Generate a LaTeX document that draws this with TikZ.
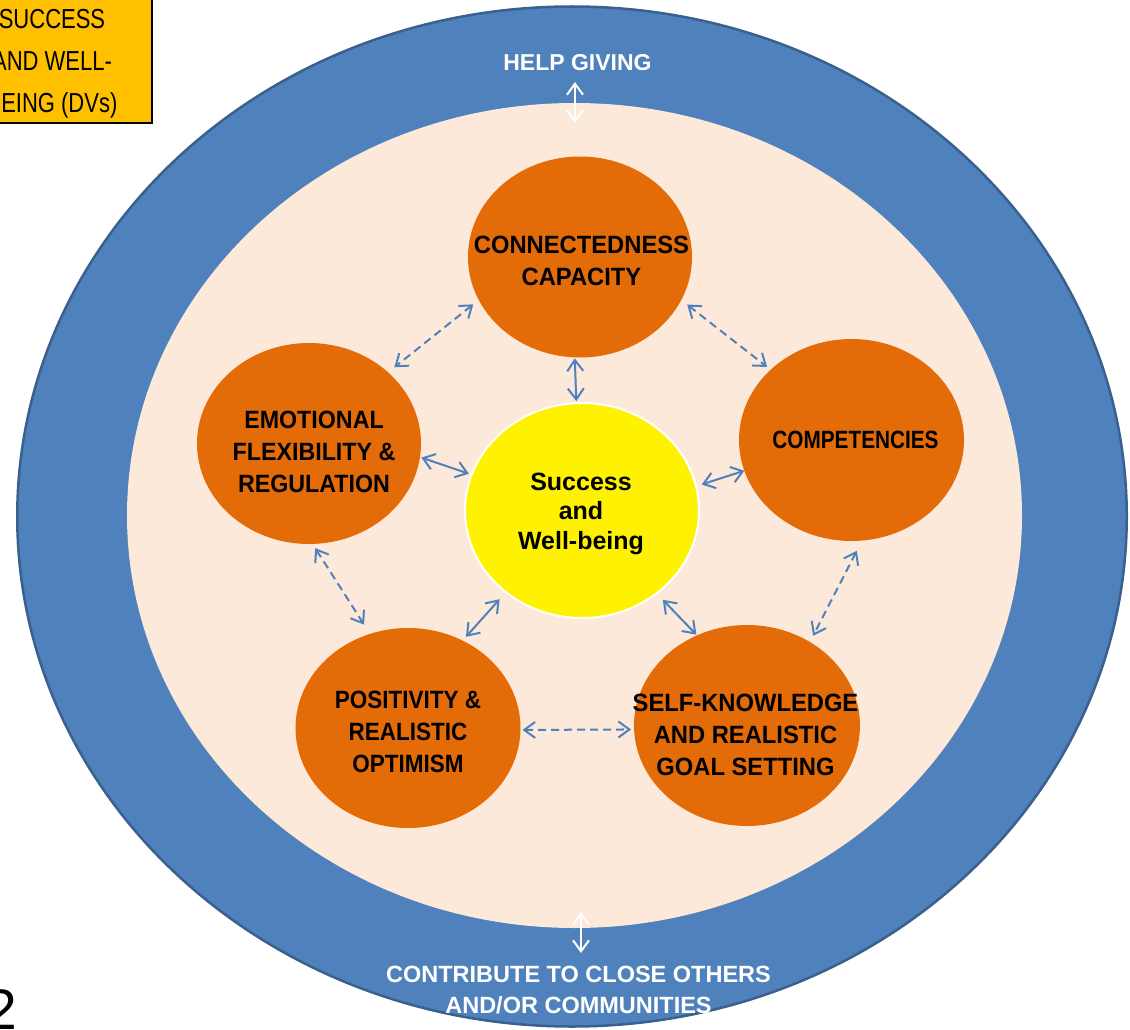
\documentclass[tikz,border=0pt]{standalone}
\usepackage{fontspec}
\usepackage{graphicx}
\setmainfont{Liberation Sans}
\usetikzlibrary{shapes.geometric,arrows.meta}

\definecolor{bandblue}{RGB}{79,129,189}
\definecolor{bandedge}{RGB}{58,96,142}
\definecolor{peach}{RGB}{253,233,217}
\definecolor{pumpkin}{RGB}{227,108,9}
\definecolor{linkblue}{RGB}{79,129,189}
\definecolor{gold}{RGB}{255,192,0}

% horizontally condensed text
\newcommand\narrow[2]{\scalebox{#1}[1]{#2}}

\tikzset{
  factor/.style={ellipse, fill=pumpkin, draw=none, inner sep=0pt, outer sep=0pt},
  factortext/.style={font=\bfseries\fontsize{25}{32}\selectfont, align=center, inner sep=0pt, text=black},
  coretext/.style={font=\bfseries\fontsize{25}{29.5}\selectfont, align=center, inner sep=0pt, text=black},
  bandtext/.style={font=\bfseries\fontsize{23.5}{31}\selectfont, align=center, inner sep=0pt, text=white},
  barb/.tip={Straight Barb[length=11pt,width=16pt]},
  link/.style={draw=linkblue, line width=2pt, barb-barb},
  weaklink/.style={link, dash pattern=on 8pt off 5pt},
  bandlink/.style={draw=white, line width=2pt, barb-barb},
}

\begin{document}
\begin{tikzpicture}[x=1pt,y=-1pt]
\useasboundingbox (0,0) rectangle (1130,1030);
\clip (0,0) rectangle (1130,1030);

% outer band and inner field
\node[ellipse, fill=bandblue, draw=bandedge, line width=2.5pt, inner sep=0pt,
      minimum width=1109.5pt, minimum height=1020pt] (band) at (572,516.5) {};
\node[ellipse, fill=peach, inner sep=0pt, minimum width=895pt, minimum height=825pt]
      (field) at (574.5,515.5) {};

% the five factors
\node[factor, minimum width=224pt, minimum height=201pt] (conn) at (580,257) {};
\node[factor, minimum width=224pt, minimum height=201pt] (emo)  at (309,443.5) {};
\node[factor, minimum width=225pt, minimum height=202pt] (comp) at (851.5,440) {};
\node[factor, minimum width=225pt, minimum height=200pt] (pos)  at (408,728) {};
\node[factor, minimum width=226pt, minimum height=201pt] (self) at (747,725.5) {};

% centre
\node[ellipse, fill=yellow, draw=white, line width=2pt, inner sep=0pt, outer sep=0pt,
      minimum width=234pt, minimum height=215pt] (core) at (582,510.5) {};

% labels
\node[factortext] (conn-label) at (581.5,261)
  {\narrow{0.95}{CONNECTEDNESS}\\\narrow{0.95}{CAPACITY}};
\node[factortext] (emo-label) at (314,452)
  {\narrow{0.93}{EMOTIONAL}\\\narrow{0.93}{FLEXIBILITY \&}\\\narrow{0.93}{REGULATION}};
\node[factortext] (comp-label) at (855.5,440) {\narrow{0.83}{COMPETENCIES}};
\node[factortext] (pos-label) at (408,732)
  {\narrow{0.9}{POSITIVITY \&}\\\narrow{0.9}{REALISTIC}\\\narrow{0.9}{OPTIMISM}};
\node[factortext] (self-label) at (745.5,735)
  {\narrow{0.95}{SELF-KNOWLEDGE}\\\narrow{0.95}{AND REALISTIC}\\\narrow{0.95}{GOAL SETTING}};
\node[coretext] (core-label) at (581,513.5) {Success\\and\\Well-being};

\node[bandtext, font=\bfseries\fontsize{23}{31}\selectfont] (help) at (577.5,62.7) {HELP GIVING};
\node[bandtext] (contrib) at (578.5,990.5) {CONTRIBUTE TO CLOSE OTHERS\\AND/OR COMMUNITIES};

% links between the centre and the factors
\draw[link, shorten <=1pt, shorten >=2pt] (conn.267) -- (core.93.6);
\draw[link, shorten <=1.5pt, shorten >=3pt] (emo.353.7) -- (core.162.8);
\draw[link, shorten <=6pt, shorten >=0pt] (core.12.4) -- (comp.196.2);
\draw[link, shorten <=5pt, shorten >=9.5pt] (pos.58.2) -- (core.227.8);
\draw[link, shorten <=1pt, shorten >=9pt] (self.119.3) -- (core.312.5);

% links between neighbouring factors
\draw[weaklink, shorten <=7pt, shorten >=8pt] (conn.203.7) -- (emo.42.7);
\draw[weaklink, shorten <=7.5pt, shorten >=4.5pt] (conn.337.6) -- (comp.139.9);
\draw[weaklink, shorten <=5pt, shorten >=11pt] (emo.272) -- (pos.112.9);
\draw[weaklink, shorten <=11.5pt, shorten >=7pt] (comp.276.4) -- (self.53);
\draw[weaklink, shorten <=2pt, shorten >=3pt] (pos.359) -- (self.182.5);

% links across the band
\coordinate (help-in) at (575,123);
\coordinate (contrib-in) at (581,912);
\draw[bandlink, shorten <=11pt] (help-in |- help.south) -- (help-in);
\draw[bandlink, shorten >=13.4pt] (contrib-in) -- (contrib-in |- contrib.north);

% outcome box, top left
\node[draw=black, line width=2pt, fill=gold, inner sep=0pt, minimum width=202pt,
      minimum height=133pt] (dv-box) at (51,56.5) {};
\node[font=\fontsize{27.5}{42}\selectfont, align=center, inner sep=0pt] (dv-label) at (52,63.4)
  {\narrow{0.8}{SUCCESS}\\\narrow{0.8}{AND WELL-}\\\narrow{0.8}{BEING (DVs)}};

% page number
\node[font=\fontsize{57}{57}\selectfont, anchor=base east, inner sep=0pt] (page-no) at (17.5,1029) {2};
\end{tikzpicture}
\end{document}
